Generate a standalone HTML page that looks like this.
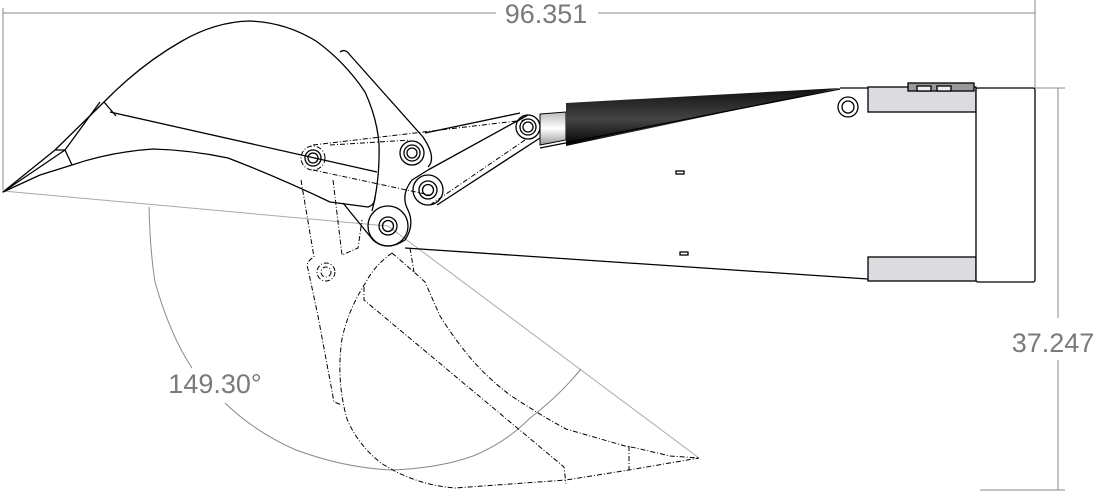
<!DOCTYPE html>
<html><head><meta charset="utf-8"><style>
html,body{margin:0;padding:0;background:#fff;}
svg{display:block;}
text{font-family:"Liberation Sans",sans-serif;fill:#7a7a7a;}
</style></head><body>
<svg width="1102" height="495" viewBox="0 0 1102 495" xmlns="http://www.w3.org/2000/svg">
<defs>
<linearGradient id="cyl" x1="0" y1="0" x2="0" y2="1">
<stop offset="0" stop-color="#111"/><stop offset="0.55" stop-color="#444"/><stop offset="1" stop-color="#000"/>
</linearGradient>
<linearGradient id="rod" x1="0" y1="0" x2="0" y2="1">
<stop offset="0" stop-color="#bbb"/><stop offset="0.5" stop-color="#fff"/><stop offset="1" stop-color="#999"/>
</linearGradient>
</defs>
<!-- dimension lines -->
<g stroke="#8a8a8a" stroke-width="1" fill="none">
<line x1="3" y1="13" x2="496" y2="13"/><line x1="598" y1="13" x2="1035" y2="13"/>
<line x1="3" y1="8" x2="3" y2="190"/><line x1="1035" y1="0" x2="1035" y2="88"/>
<line x1="978" y1="88" x2="1065" y2="88"/><line x1="1058" y1="88" x2="1058" y2="318"/><line x1="1058" y1="360" x2="1058" y2="490"/>
<line x1="980" y1="490" x2="1065" y2="490"/>
<path d="M3,191 L388,226 L699,458" stroke="#aaa"/>
<path d="M149,207 Q150,250 155,282 Q170,335 192,368 M225,403 Q255,432 296,450 Q345,468 392,470 Q440,468 473,456 Q505,443 529,419 Q560,395 581,369"/>
</g>
<text x="546" y="23" font-size="27" text-anchor="middle">96.351</text>
<text x="1053" y="352" font-size="27" text-anchor="middle">37.247</text>
<text x="215" y="393" font-size="27" text-anchor="middle">149.30°</text>

<!-- boom -->
<g stroke="#000" stroke-width="1.3" fill="none">
<path d="M405,248 L868,279"/>
<path d="M840,88 L868,88"/>
<rect x="868" y="87" width="108" height="25" fill="#dcdce0"/>
<rect x="868" y="257" width="108" height="24" fill="#dcdce0"/>
<rect x="908" y="83" width="66" height="8" fill="#999"/>
<rect x="917" y="86" width="14" height="5" fill="#eee"/><rect x="937" y="86" width="14" height="5" fill="#eee"/>
<rect x="976" y="88" width="59" height="194" rx="2" fill="#fff"/>
<rect x="676" y="171" width="8" height="3"/><rect x="680" y="252" width="8" height="3"/>
<circle cx="848" cy="107" r="10"/><circle cx="848" cy="107" r="6"/>
</g>
<!-- cylinder -->
<polygon points="540,114 566,112 566,140 540,145" fill="url(#rod)" stroke="#000" stroke-width="1"/>
<polygon points="566,103 840,88 566,146" fill="url(#cyl)"/>
<line x1="540" y1="148" x2="840" y2="89" stroke="#000" stroke-width="1.3"/>

<!-- dashed bucket -->
<g stroke="#000" stroke-width="1" fill="none" stroke-dasharray="5,2,1,2">
<path d="M392,253 Q375,265 366,282 Q348,310 342,339 Q336,380 347,419 Q358,445 381,463 Q415,485 455,488 L566,480 L629,470 L699,458"/>
<path d="M392,253 L414,272 L425,282 L440,316 Q455,340 473,361 Q490,380 510,395 Q540,415 566,429 L625,446 L636,448 L670,456 L699,458"/>
<path d="M364,287 L364,300 L564,467 L566,484"/>
<path d="M629,446 L629,470"/>
<path d="M301,180 L314,257 Q305,262 308,269 L318,316 L334,402 L342,405"/>
<path d="M333,180 L342,255 L358,248 L362,220"/>
<path d="M410,248 L414,272"/>
<circle cx="326" cy="272" r="9"/><circle cx="326" cy="272" r="5"/>
<path d="M313,170 L430,195 M330,145 L410,140 M430,205 L525,140 M313,145 L525,120"/>
<circle cx="313" cy="158" r="12"/>
</g>

<!-- solid bucket -->
<g stroke="#000" stroke-width="1.3" fill="none" stroke-linejoin="round">
<path d="M104,102 Q140,65 182,41 Q215,22 249,21 Q285,22 316,41 Q345,62 365,92 Q377,118 379,144 Q380,180 372,211"/>
<path d="M110,112 L377,172"/>
<path d="M72,165 Q110,152 153,149 Q190,150 228,158 Q280,178 330,202 L368,207 Q375,205 375,197"/>
<path d="M3,192 L55,150 L104,102 L116,116"/>
<path d="M3,192 L65,150 L72,165 L40,175 Z"/>
<path d="M55,150 L65,150 L100,102"/>
<path d="M340,52 Q345,48 350,55 L423,137 Q437,158 428,167"/>
<!-- links -->
<path d="M425,133 L520,113"/>
<path d="M428,170 L528,115"/>
<path d="M437,205 L540,138"/>
<path d="M343,203 L373,240 Q387,252 405,240 Q415,225 408,210 Q400,195 412,180 Q420,175 428,170"/>
<circle cx="528" cy="127" r="12"/><circle cx="528" cy="127" r="8"/><circle cx="528" cy="127" r="5"/>
<circle cx="412" cy="153" r="12"/><circle cx="412" cy="153" r="8"/><circle cx="412" cy="153" r="5"/>
<circle cx="428" cy="190" r="15"/><circle cx="428" cy="190" r="9"/><circle cx="428" cy="190" r="5.5"/>
<circle cx="388" cy="226" r="20"/><circle cx="388" cy="226" r="9"/><circle cx="388" cy="226" r="5.5"/>
<circle cx="313" cy="158" r="8"/><circle cx="313" cy="158" r="5"/>
</g>
</svg>
</body></html>
